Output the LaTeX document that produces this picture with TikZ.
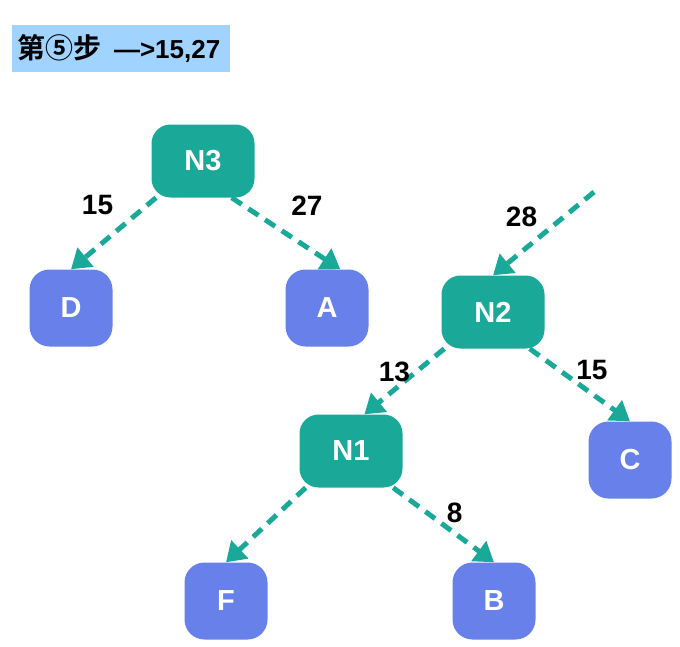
\documentclass[tikz,border=0pt]{standalone}
\usepackage{fontspec}
\setmainfont{Liberation Sans}
\newfontfamily\cjk{Noto Sans CJK SC}[BoldFont={Noto Sans CJK SC Bold}]
\usetikzlibrary{positioning, arrows.meta}
\definecolor{treeteal}{RGB}{26,169,153}
\definecolor{leafblue}{RGB}{104,128,233}
\definecolor{stepblue}{RGB}{160,212,255}

\begin{document}
\begin{tikzpicture}[x=1pt,y=-1pt,on grid,
    inner/.style={fill=treeteal,rounded corners=19pt,minimum width=103pt,minimum height=73pt,
      text=white,font=\fontsize{29}{32}\selectfont\bfseries},
    leaf/.style={fill=leafblue,rounded corners=20pt,minimum width=83pt,minimum height=77pt,
      text=white,font=\fontsize{29}{32}\selectfont\bfseries},
    flow/.style={color=treeteal,line width=5pt,dash pattern=on 12pt off 8pt,
      -{Triangle[length=19pt,width=24pt]}},
    wt/.style={font=\fontsize{28}{30}\selectfont\bfseries,text=black}]
    \useasboundingbox (0,0) rectangle (680,646);
    \node[fill=stepblue,minimum width=218pt,minimum height=47pt,text width=208pt,align=left,
      font=\fontsize{26}{28}\selectfont\bfseries] (title) at (121,48.5)
      {{\cjk\fontsize{28}{28}\selectfont 第⑤步}\hspace{13pt}—>15,27};
    \node[inner] (N3) at (203,161) {N3};
    \node[leaf] (D) [below left=147pt and 132pt of N3] {D};
    \node[leaf] (A) [below right=147pt and 124pt of N3] {A};
    \node[inner] (N2) [below right=151pt and 290pt of N3] {N2};
    \coordinate[above right=120pt and 101pt of N2] (in);
    \node[inner] (N1) [below left=139pt and 142pt of N2] {N1};
    \node[leaf] (C) [below right=148pt and 137pt of N2] {C};
    \node[leaf] (F) [below left=150pt and 125pt of N1] {F};
    \node[leaf] (B) [below right=150pt and 143pt of N1] {B};
    \path[flow]
      (N3.-142) edge node[wt,xshift=-16pt,yshift=29pt] {15} (D.north)
      (N3.-52) edge node[wt,xshift=21pt,yshift=28pt] {27} (A.71)
      (in) edge node[wt,xshift=-22pt,yshift=17pt] {28} (N2.north)
      (N2.-143) edge node[wt,xshift=-10pt,yshift=10pt] {13} (N1.70)
      (N2.-45) edge node[wt,xshift=12pt,yshift=15pt] {15} (C.north)
      (N1.-141) edge (F.north)
      (N1.-41) edge node[wt,xshift=11pt,yshift=12pt] {8} (B.north);
\end{tikzpicture}
\end{document}
